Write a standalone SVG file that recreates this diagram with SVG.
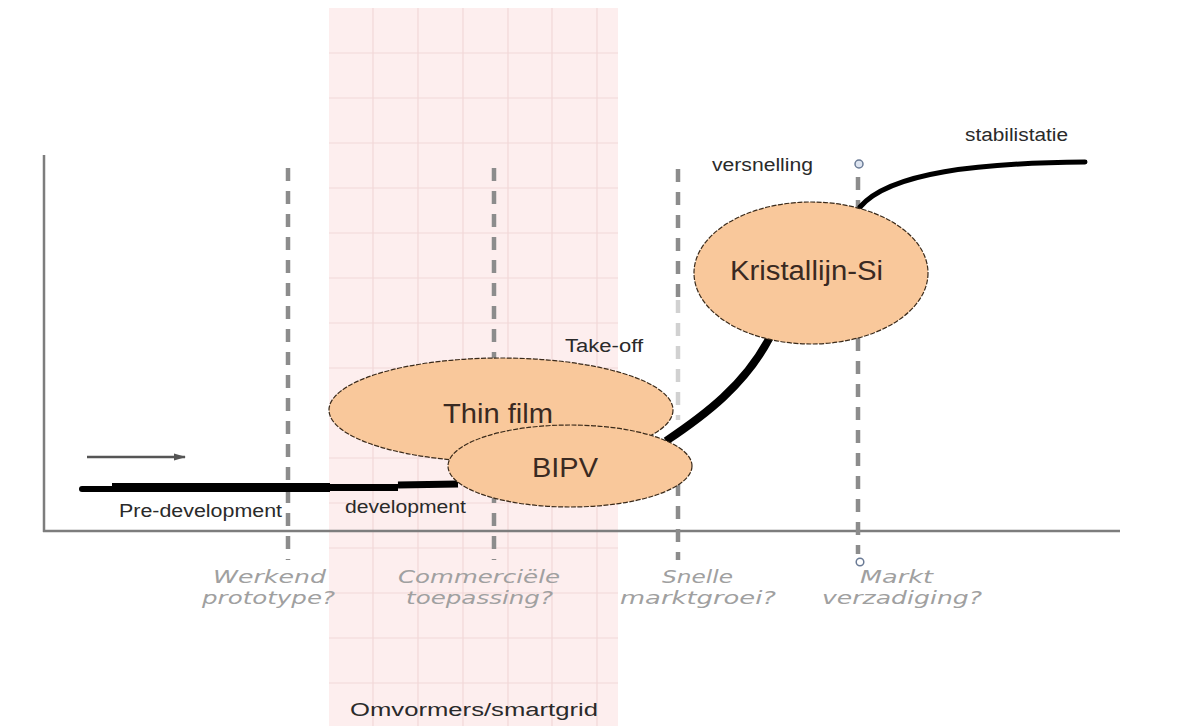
<svg xmlns="http://www.w3.org/2000/svg" width="1184" height="726" viewBox="0 0 1184 726">
<defs>
<style>
.axis{stroke:#7d7d7d;stroke-width:2.5;fill:none}
.dash{stroke:#8c8c8c;stroke-width:4.5;stroke-dasharray:13 10;fill:none}
.grid{stroke:#f2d8d8;stroke-width:1.2}
.node{fill:#f9c89b;stroke:#3a2a1a;stroke-width:1.2;stroke-dasharray:5 1.5}
.lbl{font-family:"Liberation Sans",Arial,sans-serif;font-size:18px;fill:#2a2a2a}
.big{font-family:"Liberation Sans",Arial,sans-serif;font-size:27px;fill:#3a2a22}
.q{font-family:"DejaVu Sans","Open Sans",sans-serif;font-style:italic;font-size:17px;fill:#a0a0a0}
.curve{stroke:#000;fill:none}
</style>
<marker id="arr" markerWidth="12" markerHeight="8" refX="11" refY="4" orient="auto" markerUnits="userSpaceOnUse">
<path d="M0,0.5 L12,4 L0,7.5 Z" fill="#555"/>
</marker>
</defs>
<rect width="1184" height="726" fill="#fff"/>
<g id="band">
<rect x="329" y="8" width="289" height="718" fill="#fdeeee"/>
<g class="grid">
<line x1="373" y1="8" x2="373" y2="726"/><line x1="418" y1="8" x2="418" y2="726"/><line x1="463" y1="8" x2="463" y2="726"/><line x1="508" y1="8" x2="508" y2="726"/><line x1="552" y1="8" x2="552" y2="726"/><line x1="597" y1="8" x2="597" y2="726"/>
<line x1="329" y1="53" x2="618" y2="53"/><line x1="329" y1="98" x2="618" y2="98"/><line x1="329" y1="143" x2="618" y2="143"/><line x1="329" y1="188" x2="618" y2="188"/><line x1="329" y1="233" x2="618" y2="233"/><line x1="329" y1="278" x2="618" y2="278"/><line x1="329" y1="323" x2="618" y2="323"/><line x1="329" y1="368" x2="618" y2="368"/><line x1="329" y1="413" x2="618" y2="413"/><line x1="329" y1="458" x2="618" y2="458"/><line x1="329" y1="503" x2="618" y2="503"/><line x1="329" y1="548" x2="618" y2="548"/><line x1="329" y1="593" x2="618" y2="593"/><line x1="329" y1="638" x2="618" y2="638"/><line x1="329" y1="683" x2="618" y2="683"/>
</g>
</g>
<g id="axes">
<line class="axis" x1="44" y1="155" x2="44" y2="532"/>
<line class="axis" x1="43" y1="531" x2="1120" y2="531"/>
</g>
<g id="dashes">
<line class="dash" x1="288" y1="168" x2="288" y2="560"/>
<line class="dash" x1="494" y1="168" x2="494" y2="560"/>
<line class="dash" x1="678" y1="169" x2="678" y2="300"/>
<line class="dash" x1="678" y1="300" x2="678" y2="420" opacity="0.4"/>
<line class="dash" x1="678" y1="460" x2="678" y2="560"/>
<line class="dash" x1="858" y1="177" x2="858" y2="554"/>
<circle cx="859" cy="164" r="4" fill="#dde4f0" stroke="#6a7a95" stroke-width="1.5"/>
<circle cx="860" cy="562" r="3.8" fill="#fff" stroke="#6a7a95" stroke-width="1.5"/>
</g>
<g id="connectors">
<line x1="87" y1="457" x2="185" y2="457" stroke="#555" stroke-width="2.5" marker-end="url(#arr)"/>
<path class="curve" d="M82,489 L112,489" stroke-width="6" stroke-linecap="round"/>
<path class="curve" d="M112,487.5 L330,487.5" stroke-width="9"/>
<path class="curve" d="M330,487.5 L398,487.5" stroke="#1a1010" stroke-width="7"/>
<path class="curve" d="M398,485 L458,484" stroke="#1a1010" stroke-width="7"/>
<path class="curve" d="M666,441 C705,415 745,385 770,337" stroke-width="8"/>
<path class="curve" d="M860,207 C890,172 980,163 1085,162" stroke-width="5" stroke-linecap="round"/>
</g>
<g id="thinfilm">
<ellipse class="node" cx="501" cy="410" rx="172" ry="52"/>
<text class="big" x="443" y="423" textLength="110" lengthAdjust="spacingAndGlyphs">Thin film</text>
</g>
<g id="bipv">
<ellipse class="node" cx="570" cy="466" rx="122" ry="41"/>
<text class="big" x="532" y="477" textLength="66" lengthAdjust="spacingAndGlyphs">BIPV</text>
</g>
<g id="kristallijn">
<ellipse class="node" cx="811" cy="273" rx="117" ry="71"/>
<text class="big" x="730" y="280" textLength="153" lengthAdjust="spacingAndGlyphs">Kristallijn-Si</text>
</g>
<g id="labels">
<text class="lbl" x="119" y="517" textLength="163" lengthAdjust="spacingAndGlyphs">Pre-development</text>
<text class="lbl" x="345" y="513" textLength="121" lengthAdjust="spacingAndGlyphs">development</text>
<text class="lbl" x="565" y="352" textLength="78" lengthAdjust="spacingAndGlyphs">Take-off</text>
<text class="lbl" x="712" y="171" textLength="101" lengthAdjust="spacingAndGlyphs">versnelling</text>
<text class="lbl" x="965" y="141" textLength="103" lengthAdjust="spacingAndGlyphs">stabilistatie</text>
<text class="lbl" x="350" y="716" font-size="21" textLength="248" lengthAdjust="spacingAndGlyphs">Omvormers/smartgrid</text>
<text class="q" x="213" y="583" textLength="113" lengthAdjust="spacingAndGlyphs">Werkend</text>
<text class="q" x="202" y="604" textLength="133" lengthAdjust="spacingAndGlyphs">prototype?</text>
<text class="q" x="398" y="583" textLength="162" lengthAdjust="spacingAndGlyphs">Commerciële</text>
<text class="q" x="406" y="604" textLength="147" lengthAdjust="spacingAndGlyphs">toepassing?</text>
<text class="q" x="662" y="583" textLength="71" lengthAdjust="spacingAndGlyphs">Snelle</text>
<text class="q" x="620" y="604" textLength="156" lengthAdjust="spacingAndGlyphs">marktgroei?</text>
<text class="q" x="860" y="583" textLength="73" lengthAdjust="spacingAndGlyphs">Markt</text>
<text class="q" x="822" y="604" textLength="160" lengthAdjust="spacingAndGlyphs">verzadiging?</text>
</g>
</svg>
